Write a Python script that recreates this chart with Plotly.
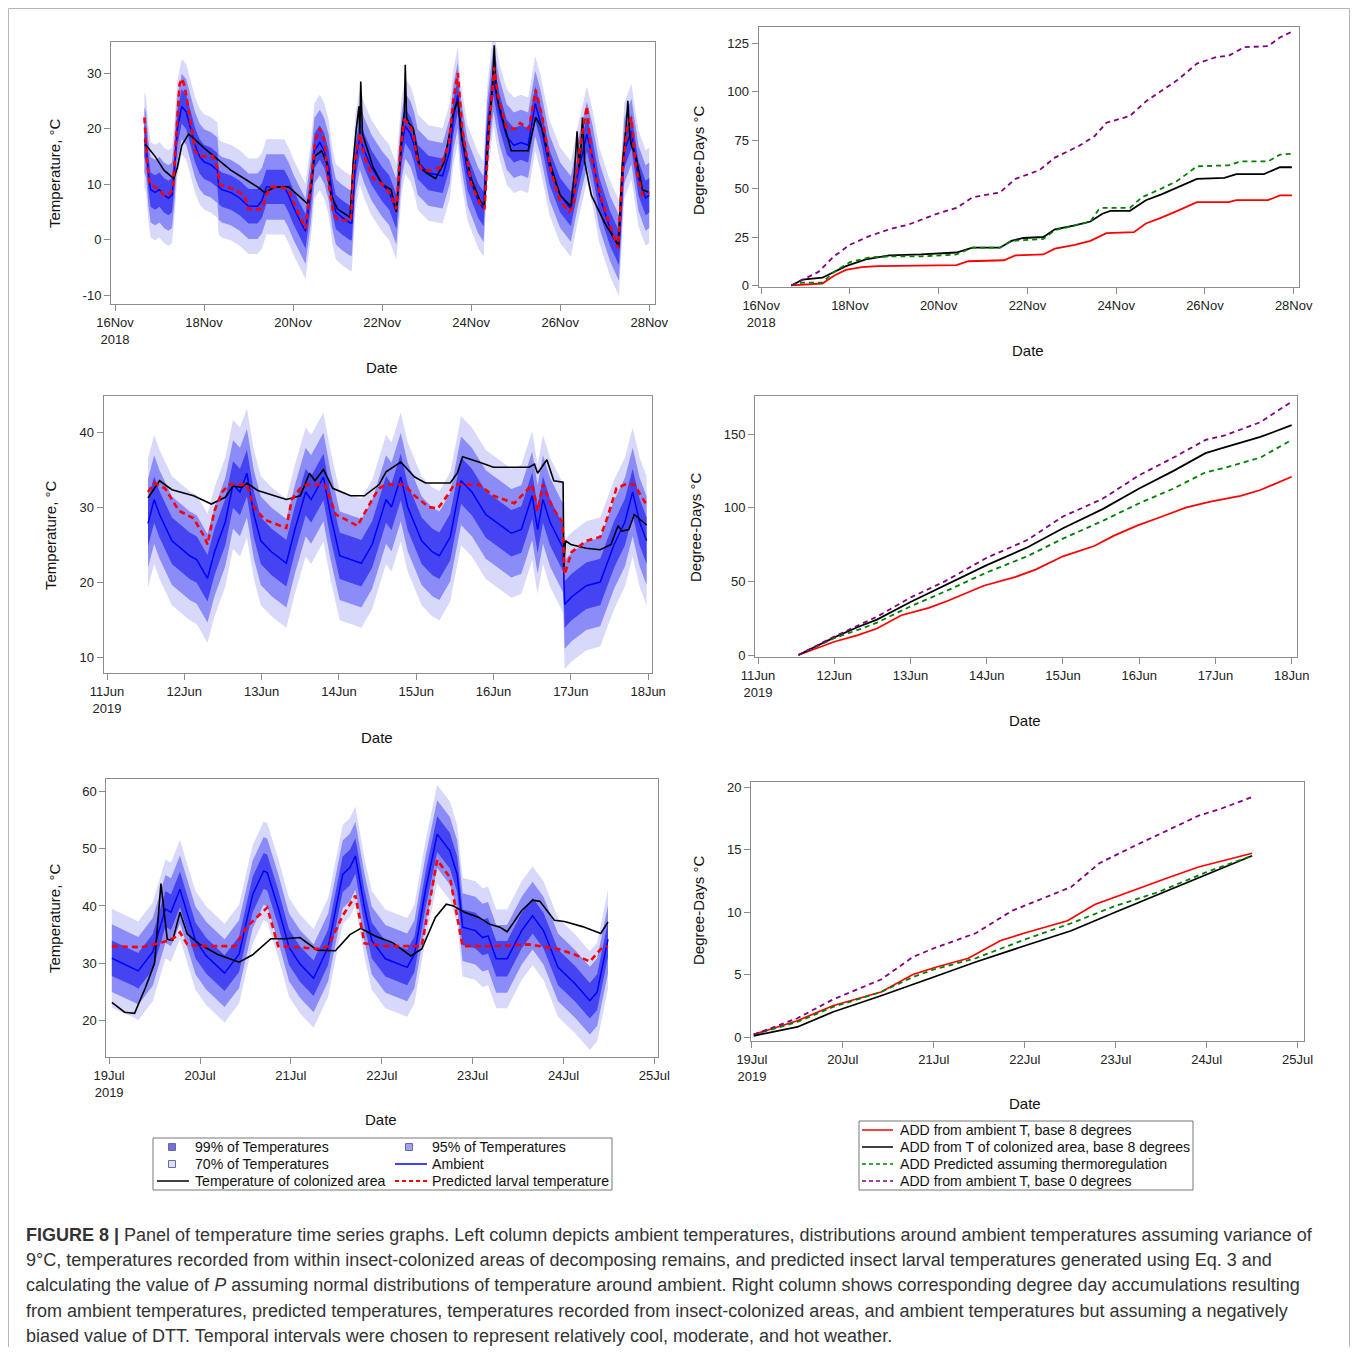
import pandas as pd
import plotly.graph_objects as go

# ======================= DATA =======================
NOV_START = "2018-11-16"
JUN_START = "2019-06-11"
JUL_START = "2019-07-19"

# ---- Cool period, Nov 2018: (day offset from 16 Nov 00:00, °C) ----
NOV_AMBIENT = [(0.66,18),(0.70,17),(0.75,12),(0.80,9),(0.9,8.5),(1.0,9),(1.1,8),(1.2,7.5),(1.28,8),(1.33,12),
               (1.4,20),(1.5,24),(1.6,23),(1.7,20),(1.8,17),(1.9,15),(2.0,14),(2.15,13.5),(2.3,12.5),(2.33,9.5),
               (2.4,9),(2.6,8.5),(2.8,7.5),(3.0,6),(3.2,6),(3.3,7),(3.4,9.5),(3.6,9.5),(3.8,9.5),(3.9,8),
               (4.0,6),(4.15,3.5),(4.28,1.5),(4.4,9),(4.48,16),(4.6,17.5),(4.7,16),(4.8,13),(4.88,8),(4.96,5),
               (5.1,4),(5.28,3),(5.32,3),(5.4,14),(5.5,18.5),(5.6,16),(5.76,13),(6.0,10),(6.16,8.5),(6.32,5),
               (6.44,17),(6.52,20.5),(6.64,19),(6.72,17),(6.8,14),(7.04,12),(7.36,11.5),(7.52,16),(7.6,22),(7.7,26),
               (7.76,20),(7.92,12),(8.16,7),(8.28,5.5),(8.36,19),(8.5,29),(8.64,23),(8.8,18.5),(8.96,17),(9.12,17.5),
               (9.28,17),(9.44,24.5),(9.56,21),(9.76,13),(10.0,8),(10.24,5.5),(10.4,12),(10.6,19),(10.72,15),(10.88,8),
               (11.12,2),(11.32,-1.5),(11.44,16),(11.6,19.5),(11.76,11),(11.92,7.5),(12.0,8)]
NOV_COLONIZED = [(0.66,17),(0.70,17),(0.9,15),(1.1,12.5),(1.32,11),(1.4,13),(1.5,17),(1.65,19),(1.8,18),(2.0,16.5),
                 (2.3,14.5),(2.6,12.5),(2.9,11),(3.2,9.5),(3.36,8.5),(3.6,9.5),(3.9,9.5),(4.1,8),(4.32,6.5),(4.4,9),
                 (4.48,15),(4.64,16),(4.75,14),(4.85,8),(5.0,5.5),(5.28,4),(5.35,14),(5.42,20),(5.48,24),(5.5,19),
                 (5.52,28.5),(5.56,19),(5.6,18),(5.8,13),(6.0,10),(6.2,9),(6.32,5),(6.45,20),(6.5,23),(6.52,31.5),
                 (6.55,22),(6.6,21),(6.7,20),(6.85,13),(7.0,12),(7.2,11),(7.4,14),(7.6,23),(7.7,25),(7.8,18),
                 (8.0,11),(8.2,7),(8.3,6),(8.4,20),(8.48,28),(8.52,35),(8.56,27),(8.6,25),(8.8,19),(8.9,16),
                 (9.1,16),(9.28,16),(9.45,22),(9.6,20),(9.8,13),(10.0,8),(10.24,6),(10.32,12),(10.38,19.5),(10.42,13),
                 (10.47,17),(10.5,22),(10.55,14),(10.7,8),(11.0,3),(11.3,-1),(11.4,14),(11.48,20),(11.52,25),(11.56,19),
                 (11.6,17),(11.7,15),(11.85,9),(12.0,8.5)]
NOV_PREDICTED = [(0.66,22),(0.72,14),(0.78,10),(0.9,9.5),(1.0,9),(1.1,8),(1.2,8),(1.3,9),(1.38,20),(1.45,28),
                 (1.5,29),(1.55,28),(1.6,26),(1.7,21),(1.8,16),(1.9,15),(2.0,15),(2.2,15),(2.3,13),(2.35,10),
                 (2.5,9.5),(2.7,9),(2.9,8),(3.0,5.5),(3.3,5.5),(3.4,8),(3.5,9.5),(3.7,9.5),(3.9,9),(4.1,5),
                 (4.28,2),(4.4,10),(4.5,18),(4.6,20),(4.7,18),(4.8,10),(4.9,5),(5.0,3.5),(5.3,3.5),(5.35,12),
                 (5.45,17),(5.5,19),(5.6,15),(5.8,11),(6.0,10),(6.2,8),(6.32,5.5),(6.42,17),(6.5,21.5),(6.6,21),
                 (6.7,19),(6.8,14),(6.9,12.5),(7.1,12.5),(7.3,13),(7.5,17),(7.6,25),(7.7,30),(7.8,20),(8.0,10),
                 (8.2,6.5),(8.3,5.5),(8.4,20),(8.52,31),(8.6,26),(8.8,20),(9.0,20),(9.1,21),(9.3,20),(9.45,27),
                 (9.6,22),(9.8,12),(10.0,7),(10.2,5),(10.3,6),(10.35,11),(10.45,17),(10.6,24),(10.7,15),(10.9,8),
                 (11.1,3),(11.3,-1.5),(11.4,12),(11.5,20),(11.6,22),(11.7,13),(11.85,8),(12.0,8.5)]

NOV_ADD_AMB8 = [(0.68,0),(1.38,1),(1.64,5),(1.91,8),(2.27,9.5),(2.62,10),(4.4,10.5),(4.67,12.5),(5.47,13),(5.73,15.5),
                (6.36,16),(6.62,19),(7.07,21),(7.42,23),(7.78,27),(8.4,27.5),(8.67,32),(9.02,35),(9.38,38.5),(9.82,43),
                (10.53,43),(10.71,44),(11.42,44),(11.69,46.5),(11.96,46.5)]
NOV_ADD_COL8 = [(0.68,0),(0.93,3),(1.38,4),(1.91,10),(2.36,13.5),(2.89,15.5),(3.6,16),(4.4,17),(4.76,19.5),(5.38,19.5),
                (5.64,23),(5.91,24.5),(6.36,25),(6.62,29),(7.07,31),(7.42,33),(7.69,37),(7.87,38.5),(8.31,38.5),(8.67,44),
                (9.02,47),(9.38,50.5),(9.82,55),(10.44,55.5),(10.71,57.5),(11.33,57.5),(11.69,61),(11.96,61)]
NOV_ADD_PRED = [(0.68,0),(0.93,1.5),(1.38,1.5),(1.64,7),(2.0,12),(2.44,14.5),(2.89,15),(3.6,15),(4.4,16),(4.76,19.5),
                (5.38,19.5),(5.64,23),(6.36,24),(6.62,28.5),(7.07,31),(7.42,33),(7.6,39),(7.69,40),(8.31,40),(8.58,45.5),
                (9.02,50),(9.38,54),(9.82,61.5),(10.53,62),(10.8,64),(11.42,64),(11.69,67.5),(11.96,68)]
NOV_ADD_AMB0 = [(0.68,0),(0.93,3),(1.29,7),(1.64,15),(2.0,21),(2.44,25.5),(2.89,29),(3.33,31.5),(3.96,37),(4.4,40),
                (4.76,45.5),(5.38,48),(5.73,55),(6.27,59.5),(6.62,66),(7.16,72),(7.51,77),(7.78,84),(8.31,87.5),(8.67,95),
                (9.02,100.5),(9.38,106),(9.82,114.5),(10.27,118),(10.53,118.5),(10.89,123),(11.42,123.5),(11.69,128),(11.96,131)]

# ---- Moderate period, Jun 2019: (day offset from 11 Jun 00:00, °C) ----
JUN_AMBIENT = [(0.53,27.8),(0.61,31),(0.68,29),(0.84,25.5),(1.07,23.5),(1.16,23),(1.3,20.5),(1.39,24),(1.53,28),(1.63,33),
               (1.72,32),(1.81,34.5),(1.9,29),(1.99,25.5),(2.13,24),(2.32,22.5),(2.43,27),(2.57,32),(2.64,31),(2.8,34),
               (2.89,29),(3.01,23.5),(3.29,22.5),(3.43,25),(3.61,31),(3.68,30),(3.8,34),(3.89,30),(4.07,25.5),(4.21,24),
               (4.3,23.5),(4.44,26),(4.58,33.5),(4.72,32),(4.9,29),(5.23,26.5),(5.36,27),(5.5,31.5),(5.57,27),(5.64,31),
               (5.73,28),(5.9,24.5),(5.92,17),(6.01,18),(6.2,19.5),(6.38,20),(6.56,25),(6.7,28),(6.8,32),(6.89,28),(6.98,25.5)]
JUN_COLONIZED = [(0.53,31.2),(0.68,33.5),(0.84,32.3),(1.12,31.5),(1.35,30.4),(1.53,31.3),(1.63,32.8),(1.74,32.6),(1.81,33.2),(1.95,32.2),
                 (2.32,31.0),(2.5,31.5),(2.62,34.5),(2.69,33.5),(2.8,35),(2.92,32.5),(3.15,31.5),(3.33,31.5),(3.52,33),(3.61,34.7),
                 (3.8,36),(3.98,34.0),(4.12,33.2),(4.44,33.2),(4.53,34.5),(4.6,36.7),(4.81,36),(5.0,35.3),(5.46,35.3),(5.53,35.7),
                 (5.57,34.5),(5.69,36.3),(5.78,33.5),(5.9,33.3),(5.91,22),(5.93,25.5),(6.0,25),(6.2,24.5),(6.38,24.3),(6.52,25),
                 (6.61,27.5),(6.66,26.8),(6.75,27),(6.82,29),(6.98,27.6)]
JUN_PREDICTED = [(0.53,32),(0.61,33.2),(0.75,32.5),(0.93,29.5),(1.12,28.5),(1.26,26),(1.3,25),(1.39,29.5),(1.49,32),(1.58,33),
                 (1.81,33),(1.9,30),(2.04,28.3),(2.32,27.2),(2.39,31),(2.5,32.5),(2.59,33),(2.82,33),(2.96,29),(3.1,28.2),
                 (3.24,27.5),(3.43,31),(3.52,32.5),(3.61,33),(3.84,33),(3.98,31.5),(4.16,30),(4.28,29.8),(4.4,31.5),(4.49,33),
                 (4.81,33),(5.0,31.5),(5.27,30.5),(5.41,32),(5.5,33),(5.57,29.5),(5.64,33),(5.76,30),(5.89,28),(5.92,21),
                 (6.01,24),(6.2,25.5),(6.38,26),(6.47,28.5),(6.59,32.5),(6.7,33),(6.82,33),(6.98,30.3)]

JUN_ADD_AMB8 = [(0.53,0),(0.79,5),(1.0,9),(1.31,13.5),(1.56,18),(1.88,27),(2.24,32),(2.5,37),(2.96,47),(3.38,53),
                (3.64,58),(4.0,67),(4.41,74),(4.67,81),(4.98,88),(5.3,94),(5.61,100),(5.92,104),(6.33,108),(6.59,112),(7.0,121)]
JUN_ADD_COL8 = [(0.53,0),(1.0,12),(1.31,19),(1.56,24),(2.0,36),(2.45,47),(3.0,61),(3.53,73),(4.0,86),(4.52,99),
                (5.0,113),(5.45,125),(5.87,137),(6.12,141),(6.59,148),(7.0,156)]
JUN_ADD_PRED = [(0.53,0),(1.0,11.5),(1.31,17),(1.56,22),(2.0,33),(2.45,43),(3.0,56),(3.53,67),(4.0,79),(4.52,91),
                (5.0,103),(5.45,113),(5.87,124),(6.12,127),(6.59,134),(7.0,146)]
JUN_ADD_AMB0 = [(0.53,0),(1.0,12.5),(1.31,20),(1.56,26),(2.0,39),(2.45,50),(3.0,66),(3.53,78),(4.0,94),(4.52,106),
                (5.0,122),(5.45,134),(5.87,146),(6.12,149),(6.59,158),(7.0,172)]

# ---- Hot period, Jul 2019: (day offset from 19 Jul 00:00, °C) ----
JUL_AMBIENT = [(0.03,30.9),(0.28,29.1),(0.32,28.7),(0.48,32),(0.62,39.5),(0.68,38.9),(0.78,42.9),(0.84,39.7),(0.95,34),(1.07,31.3),
               (1.27,28.3),(1.43,31.6),(1.58,42),(1.70,46.1),(1.74,45.8),(1.86,39.7),(1.98,32.8),(2.10,29.9),(2.25,27.4),(2.41,32.8),
               (2.57,45.5),(2.65,46.7),(2.71,48.7),(2.81,39.7),(2.89,34),(3.04,30.8),(3.28,29.3),(3.36,31.6),(3.48,42.6),(3.61,52.5),
               (3.75,49.6),(3.83,45.5),(3.89,36.3),(4.03,35.7),(4.11,34.5),(4.17,34.8),(4.26,30.8),(4.38,30.8),(4.54,35.7),(4.66,38.3),
               (4.78,35.7),(4.94,29.3),(5.13,26.4),(5.29,23.5),(5.37,25),(5.49,34.2)]
JUL_COLONIZED = [(0.03,23.2),(0.17,21.5),(0.28,21.3),(0.4,25.8),(0.5,30),(0.57,43.9),(0.64,34.2),(0.7,34),(0.78,38.9),(0.86,35.1),
                 (0.99,33.4),(1.19,31.6),(1.43,30.2),(1.58,31.5),(1.78,34.3),(1.94,34.3),(2.1,34.5),(2.29,32.3),(2.49,32.2),(2.65,35),
                 (2.77,36.1),(2.92,34.8),(3.12,33.6),(3.32,31.3),(3.44,32.5),(3.59,38),(3.71,40.3),(3.79,40),(3.91,38.9),(4.07,38),
                 (4.19,36.8),(4.3,36.3),(4.38,35.5),(4.54,39.2),(4.66,41),(4.74,40.8),(4.9,37.5),(5.01,37.3),(5.21,36.4),(5.41,35.2),
                 (5.49,37.2)]
JUL_PREDICTED = [(0.03,33),(0.36,32.8),(0.64,33.9),(0.72,34.5),(0.78,35.4),(0.86,33.3),(0.99,33),(1.39,33),(1.51,36.3),(1.62,38),
                 (1.74,39.7),(1.86,33),(2.1,32.8),(2.29,32.5),(2.41,33),(2.57,38.3),(2.71,41.8),(2.81,33.5),(3.04,33),(3.44,33),
                 (3.52,40),(3.61,48),(3.75,45),(3.83,38.5),(3.89,33),(4.23,33),(4.62,33.3),(4.94,32.5),(5.13,31.5),(5.29,30.3),
                 (5.41,32.5),(5.49,33)]

JUL_ADD_AMB8 = [(0.02,0.2),(0.5,1.3),(0.89,2.5),(1.42,3.6),(1.77,5),(2.03,5.6),(2.38,6.3),(2.73,7.7),(2.99,8.3),(3.47,9.3),
                (3.77,10.6),(4.21,11.8),(4.56,12.7),(4.91,13.6),(5.17,14.1),(5.5,14.7)]
JUL_ADD_COL8 = [(0.02,0.1),(0.5,0.8),(0.89,2.0),(1.42,3.3),(2.0,4.8),(2.46,6.0),(3.0,7.3),(3.51,8.5),(4.0,10.0),(4.47,11.4),
                (5.0,13.0),(5.5,14.5)]
JUL_ADD_PRED = [(0.02,0.2),(0.5,1.2),(0.89,2.4),(1.42,3.6),(1.77,4.8),(2.0,5.4),(2.46,6.3),(3.0,7.8),(3.51,9.1),(4.0,10.5),
                (4.47,11.6),(5.0,13.2),(5.5,14.5)]
JUL_ADD_AMB0 = [(0.02,0.2),(0.5,1.5),(0.89,3.0),(1.42,4.6),(1.77,6.4),(2.0,7.1),(2.46,8.3),(2.86,10.1),(3.51,12.0),(3.82,13.9),
                (4.21,15.3),(4.56,16.5),(4.91,17.7),(5.17,18.3),(5.5,19.2)]

# half-widths (°C) of the temperature distribution bands around ambient
BAND_HALF_WIDTH = {"99%": 8.6, "95%": 5.9, "70%": 3.1}

# tick labels
NOV_TICK_DAYS = [0, 2, 4, 6, 8, 10, 12]
NOV_TICK_TEXT = ["16Nov<br>2018", "18Nov", "20Nov", "22Nov", "24Nov", "26Nov", "28Nov"]
JUN_TICK_DAYS = [0, 1, 2, 3, 4, 5, 6, 7]
JUN_TICK_TEXT = ["11Jun<br>2019", "12Jun", "13Jun", "14Jun", "15Jun", "16Jun", "17Jun", "18Jun"]
JUL_TICK_DAYS = [0, 1, 2, 3, 4, 5, 6]
JUL_TICK_TEXT = ["19Jul<br>2019", "20Jul", "21Jul", "22Jul", "23Jul", "24Jul", "25Jul"]

LEFT_LEGEND = ["99% of Temperatures", "95% of Temperatures", "70% of Temperatures", "Ambient",
               "Temperature of colonized area", "Predicted larval temperature"]
RIGHT_LEGEND = ["ADD from ambient T, base 8 degrees", "ADD from T of colonized area, base 8 degrees",
                "ADD Predicted assuming thermoregulation", "ADD from ambient T, base 0 degrees"]

CAPTION = [
    "<b>FIGURE 8 |</b> Panel of temperature time series graphs. Left column depicts ambient temperatures, distributions around ambient temperatures assuming variance of",
    "9°C, temperatures recorded from within insect-colonized areas of decomposing remains, and predicted insect larval temperatures generated using Eq. 3 and",
    "calculating the value of <i>P</i> assuming normal distributions of temperature around ambient. Right column shows corresponding degree day accumulations resulting",
    "from ambient temperatures, predicted temperatures, temperatures recorded from insect-colonized areas, and ambient temperatures but assuming a negatively",
    "biased value of DTT. Temporal intervals were chosen to represent relatively cool, moderate, and hot weather.",
]

# ======================= STYLE / LAYOUT =======================
# figure sized to fit the window exactly inside the page's 8px body margin
PAGE_MARGIN = 8
W, H = 1358 - 2 * PAGE_MARGIN, 1355 - 2 * PAGE_MARGIN
FONT = "Arial, Liberation Sans, Helvetica, sans-serif"
C_LIGHT, C_MED, C_DARK = "rgb(216,216,250)", "rgb(140,140,248)", "rgb(68,68,242)"
C_AMB, C_COL, C_PRED = "rgb(0,0,255)", "black", "rgb(255,0,0)"
C_GREEN, C_PURPLE = "rgb(0,128,0)", "rgb(128,0,128)"
FRAME = "#8c8c8c"


def px(x):  # window pixel -> paper fraction
    return (x - PAGE_MARGIN) / W


def py(y):
    return 1 - (y - PAGE_MARGIN) / H


def to_dt(start, days):
    s = pd.Timestamp(start)
    return [s + pd.Timedelta(days=d) for d in days]


fig = go.Figure()


def unzip(pairs):
    return [p[0] for p in pairs], [p[1] for p in pairs]


def temp_panel(n, start, amb, col, pred):
    xa, ya = ("x" if n == 1 else f"x{n}"), ("y" if n == 1 else f"y{n}")
    t, v = unzip(amb)
    x = to_dt(start, t)
    for key, color in [("99%", C_LIGHT), ("95%", C_MED), ("70%", C_DARK)]:
        w = BAND_HALF_WIDTH[key]
        up = [a + w for a in v]
        lo = [a - w for a in v]
        fig.add_trace(go.Scatter(x=x + x[::-1], y=up + lo[::-1], fill="toself", fillcolor=color,
                                 mode="lines", line=dict(width=0, color=color), xaxis=xa, yaxis=ya,
                                 showlegend=False, hoverinfo="skip"))
    fig.add_trace(go.Scatter(x=x, y=v, mode="lines", line=dict(color=C_AMB, width=1.5),
                             xaxis=xa, yaxis=ya, showlegend=False))
    t, v = unzip(col)
    fig.add_trace(go.Scatter(x=to_dt(start, t), y=v, mode="lines", line=dict(color=C_COL, width=1.6),
                             xaxis=xa, yaxis=ya, showlegend=False))
    t, v = unzip(pred)
    fig.add_trace(go.Scatter(x=to_dt(start, t), y=v, mode="lines",
                             line=dict(color=C_PRED, width=2.6, dash="6px,4px"),
                             xaxis=xa, yaxis=ya, showlegend=False))


def add_panel(n, start, amb8, col8, pred, amb0):
    xa, ya = f"x{n}", f"y{n}"
    for pairs, color, dash in [(amb8, C_PRED, "solid"), (col8, C_COL, "solid"),
                               (pred, C_GREEN, "5px,4px"), (amb0, C_PURPLE, "5px,4px")]:
        t, v = unzip(pairs)
        fig.add_trace(go.Scatter(x=to_dt(start, t), y=v, mode="lines",
                                 line=dict(color=color, width=1.8, dash=dash),
                                 xaxis=xa, yaxis=ya, showlegend=False))


temp_panel(1, NOV_START, NOV_AMBIENT, NOV_COLONIZED, NOV_PREDICTED)
add_panel(2, NOV_START, NOV_ADD_AMB8, NOV_ADD_COL8, NOV_ADD_PRED, NOV_ADD_AMB0)
temp_panel(3, JUN_START, JUN_AMBIENT, JUN_COLONIZED, JUN_PREDICTED)
add_panel(4, JUN_START, JUN_ADD_AMB8, JUN_ADD_COL8, JUN_ADD_PRED, JUN_ADD_AMB0)
temp_panel(5, JUL_START, JUL_AMBIENT, JUL_COLONIZED, JUL_PREDICTED)
add_panel(6, JUL_START, JUL_ADD_AMB8, JUL_ADD_COL8, JUL_ADD_PRED, JUL_ADD_AMB0)

# panel geometry: (frame px left, right, top, bottom), x range days, y range, y ticks, start, tick days, text
PANELS = {
    1: ((111, 655, 42, 304), (-0.09, 12.13), (-11.6, 35.6), [-10, 0, 10, 20, 30], NOV_START, NOV_TICK_DAYS, NOV_TICK_TEXT),
    2: ((758.5, 1299, 27, 287), (-0.06, 12.12), (-0.8, 133.4), [0, 25, 50, 75, 100, 125], NOV_START, NOV_TICK_DAYS, NOV_TICK_TEXT),
    3: ((103.6, 652, 396, 673), (-0.044, 7.05), (7.87, 44.8), [10, 20, 30, 40], JUN_START, JUN_TICK_DAYS, JUN_TICK_TEXT),
    4: ((755, 1297, 396, 657), (-0.04, 7.07), (-1.36, 175.8), [0, 50, 100, 150], JUN_START, JUN_TICK_DAYS, JUN_TICK_TEXT),
    5: ((106.4, 658, 779, 1057), (-0.03, 6.04), (13.7, 62.1), [20, 30, 40, 50, 60], JUL_START, JUL_TICK_DAYS, JUL_TICK_TEXT),
    6: ((751, 1304, 782, 1041), (-0.01, 6.07), (-0.32, 20.4), [0, 5, 10, 15, 20], JUL_START, JUL_TICK_DAYS, JUL_TICK_TEXT),
}

axes = {}
for n, (fr, xr, yr, yt, start, tdays, ttext) in PANELS.items():
    l, r, t, b = fr
    common = dict(showline=True, mirror=True, linecolor=FRAME, linewidth=1, ticks="outside", ticklen=6,
                  tickcolor=FRAME, showgrid=False, zeroline=False, automargin=False,
                  tickfont=dict(family=FONT, size=13, color="#222"))
    xk = "xaxis" if n == 1 else f"xaxis{n}"
    yk = "yaxis" if n == 1 else f"yaxis{n}"
    axes[xk] = dict(common, type="date", domain=[px(l), px(r)], anchor=("y" if n == 1 else f"y{n}"),
                    range=[to_dt(start, [xr[0]])[0], to_dt(start, [xr[1]])[0]],
                    tickmode="array", tickvals=to_dt(start, tdays), ticktext=ttext)
    axes[yk] = dict(common, domain=[py(b), py(t)], anchor=("x" if n == 1 else f"x{n}"),
                    range=list(yr), tickmode="array", tickvals=yt, ticktext=[str(v) for v in yt])
fig.update_layout(**axes)

ann = []
shapes = []


def text(x, y, s, size=13, anchor="left", angle=0, color="#111"):
    ann.append(dict(x=px(x), y=py(y), xref="paper", yref="paper", text=s, showarrow=False,
                    xanchor=anchor, yanchor="middle", textangle=angle,
                    font=dict(family=FONT, size=size, color=color)))


# axis titles
for (x, y) in [(382, 367), (1028, 351), (377, 737), (1025, 720), (381, 1119), (1025, 1103)]:
    text(x, y, "Date", size=15, anchor="center")
for (x, y, s) in [(55, 173, "Temperature, °C"), (698, 160, "Degree-Days °C"), (51, 535, "Temperature, °C"),
                  (695, 527, "Degree-Days °C"), (54, 918, "Temperature, °C"), (698, 910, "Degree-Days °C")]:
    text(x, y, s, size=15, anchor="center", angle=-90)

# ---- left legend ----
shapes.append(dict(type="rect", xref="paper", yref="paper", x0=px(153), x1=px(612), y0=py(1190), y1=py(1138),
                   line=dict(color="#777", width=1)))
for (cx, cy, fillc) in [(172, 1147, "rgb(110,110,225)"), (409, 1147, "rgb(160,160,238)"), (172, 1164, "rgb(222,222,250)")]:
    shapes.append(dict(type="rect", xref="paper", yref="paper", x0=px(cx - 3.5), x1=px(cx + 3.5),
                       y0=py(cy + 3.5), y1=py(cy - 3.5), fillcolor=fillc, line=dict(color="#6a6a9a", width=1)))
shapes.append(dict(type="line", xref="paper", yref="paper", x0=px(395), x1=px(427), y0=py(1164), y1=py(1164),
                   line=dict(color=C_AMB, width=1.5)))
shapes.append(dict(type="line", xref="paper", yref="paper", x0=px(157), x1=px(189), y0=py(1181), y1=py(1181),
                   line=dict(color=C_COL, width=1.5)))
shapes.append(dict(type="line", xref="paper", yref="paper", x0=px(395), x1=px(427), y0=py(1181), y1=py(1181),
                   line=dict(color=C_PRED, width=2, dash="4px,3px")))
for (x, y), s in zip([(193, 1147), (430, 1147), (193, 1164), (430, 1164), (193, 1181), (430, 1181)], LEFT_LEGEND):
    text(x, y, s, size=14.1)

# ---- right legend ----
shapes.append(dict(type="rect", xref="paper", yref="paper", x0=px(859), x1=px(1193), y0=py(1190), y1=py(1121),
                   line=dict(color="#777", width=1)))
for y, color, dash, s in zip([1130, 1147, 1164, 1181], [C_PRED, C_COL, C_GREEN, C_PURPLE],
                             ["solid", "solid", "4px,3px", "4px,3px"], RIGHT_LEGEND):
    shapes.append(dict(type="line", xref="paper", yref="paper", x0=px(862), x1=px(893), y0=py(y), y1=py(y),
                       line=dict(color=color, width=1.5, dash=dash)))
    text(898, y, s, size=14.1)

# ---- caption ----
for i, line in enumerate(CAPTION):
    text(24, 1235 + i * 25.2, line, size=18.0, color="#333")

# outer border (at the page's 8px margin)
shapes.append(dict(type="rect", xref="paper", yref="paper", x0=px(8.5), x1=px(1349.5), y0=py(1380), y1=py(8.5),
                   line=dict(color="#b5b5b5", width=1)))

fig.update_layout(width=W, height=H, autosize=False,
                  margin=dict(l=0, r=0, t=0, b=0, pad=0, autoexpand=False),
                  paper_bgcolor="white", plot_bgcolor="white", showlegend=False,
                  annotations=ann, shapes=shapes, font=dict(family=FONT))

fig.write_html("out.html")
